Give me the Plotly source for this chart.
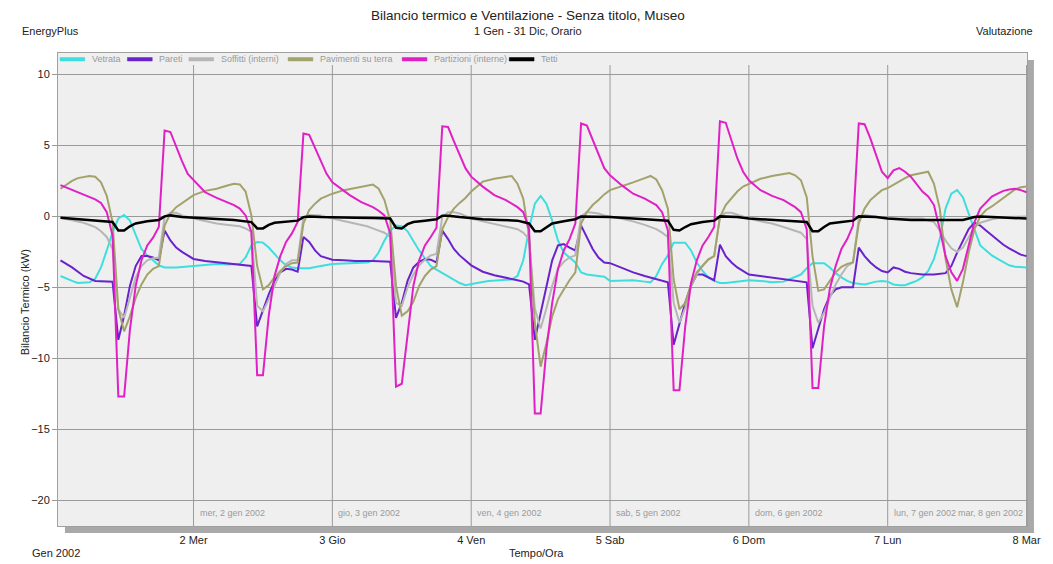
import pandas as pd
import plotly.graph_objects as go

# ===== DATA (hours since 1 Jan 2002 00:00, kW) =====
vetrata_h = [1, 2, 3, 4, 5, 6, 7, 8, 9, 10, 11, 12, 13, 14, 15, 16, 17, 18, 19, 21, 24,
             26, 28, 30, 32, 33, 34, 35, 36, 37, 38, 39, 40, 41, 42, 44, 46,
             48, 51, 54, 55, 56, 57, 58, 59, 60, 61, 62, 63, 64, 65, 66, 67, 68, 69, 70, 71, 72,
             73, 75, 77, 79, 80, 81, 82, 83, 84, 85, 86, 87, 88, 89, 90, 91, 92, 94, 95,
             96, 98, 100, 102, 103, 104, 105, 106, 107, 108, 109, 110, 111, 112, 113, 114, 115, 116, 118, 120,
             122, 124, 126, 128, 129, 130, 131, 132, 133, 134, 135, 136, 137, 138, 140, 142, 143,
             144, 145, 146, 147, 148, 149, 150, 151, 152, 153, 154, 155, 156, 157, 158, 159, 160, 161, 162,
             163, 164, 165, 166, 167, 168]
vetrata_kw = [-4.2, -4.4, -4.55, -4.7, -4.7, -4.65, -4.4, -3.6, -2.4, -1.1, -0.15, 0.1, -0.3, -1.35, -2.3, -2.75,
              -3.1, -3.45, -3.6, -3.6, -3.5,
              -3.4, -3.35, -3.4, -3.35, -2.9, -2.05, -1.8, -1.85, -2.2, -2.65, -3.1, -3.45, -3.6, -3.65, -3.65, -3.5,
              -3.35, -3.3, -3.25, -3.1, -2.55, -1.7, -1.0, -0.65, -0.7, -1.05, -1.7, -2.4, -2.95, -3.5, -3.75, -4.0,
              -4.25, -4.5, -4.7, -4.85, -4.8,
              -4.7, -4.55, -4.5, -4.45, -4.2, -3.1, -0.9, 0.9, 1.45, 0.9, -0.3, -1.7, -2.55, -2.9, -3.25, -3.95,
              -4.1, -4.2, -4.25,
              -4.55, -4.5, -4.5, -4.6, -4.65, -4.2, -3.35, -2.75, -1.85, -1.85, -1.85, -2.4, -3.25, -3.85, -4.3,
              -4.55, -4.7, -4.7, -4.6, -4.5,
              -4.55, -4.65, -4.6, -4.3, -4.1, -3.65, -3.3, -3.3, -3.3, -3.6, -4.0, -4.3, -4.55, -4.7, -4.8, -4.6, -4.55,
              -4.6, -4.8, -4.85, -4.85, -4.7, -4.55, -4.3, -3.85, -3.0, -1.6, 0.55, 1.6, 1.85, 1.35, 0.2, -1.0,
              -2.05, -2.4, -2.75, -3.0, -3.25, -3.45, -3.55, -3.6, -3.6]

pareti_h = [1, 3, 5, 7, 10, 11, 12, 13, 14, 15, 16, 17, 18, 19, 20, 21, 22, 24,
            26, 28, 31, 33, 34, 35, 36, 37, 38, 39, 40, 41, 42, 43, 44, 45, 46,
            48, 50, 52, 55, 58, 59, 60, 61, 62, 63, 64, 65, 66, 67, 68, 69, 70, 72,
            74, 76, 78, 80, 81, 82, 83, 84, 85, 86, 87, 88, 89, 90, 91, 92, 93, 94, 95,
            96, 98, 100, 102, 104, 106, 107, 108, 109, 110, 111, 112, 113, 114, 115, 116, 117, 118, 120,
            122, 124, 126, 128, 130, 131, 132, 133, 134, 135, 136, 137, 138, 139, 140, 141, 142, 143,
            144, 145, 146, 147, 148, 150, 152, 154, 155, 156, 157, 158, 159, 160, 161, 162, 163, 164, 165,
            166, 167, 168]
pareti_kw = [-3.1, -3.6, -4.2, -4.55, -4.6, -8.7, -7.0, -4.9, -3.5, -2.8, -2.8, -2.9, -3.1, -1.0, -1.7, -2.2, -2.5, -3.0,
             -3.15, -3.25, -3.35, -3.45, -3.5, -7.75, -6.55, -5.5, -4.55, -3.95, -3.7, -3.75, -3.9, -1.45, -1.8,
             -2.4, -2.8,
             -3.05, -3.1, -3.15, -3.15, -3.2, -7.15, -6.1, -4.55, -3.6, -3.2, -3.0, -3.05, -3.25, -1.0, -1.6, -2.3,
             -2.75, -3.45,
             -3.9, -4.15, -4.3, -4.5, -4.6, -4.8, -8.7, -6.8, -4.9, -3.1, -2.05, -1.95, -2.2, -2.4, -0.65, -1.45,
             -2.3, -2.9, -3.25,
             -3.3, -3.65, -3.95, -4.2, -4.4, -4.65, -9.05, -7.5, -6.1, -4.9, -4.1, -4.1, -4.3, -4.5, -2.0, -2.8,
             -3.25, -3.6, -4.1,
             -4.2, -4.3, -4.4, -4.5, -4.65, -9.3, -8.0, -6.55, -5.6, -5.15, -5.0, -5.0, -5.0, -2.2, -2.8, -3.25,
             -3.6, -3.85,
             -3.95, -3.6, -3.7, -3.9, -4.0, -4.1, -4.1, -4.0, -3.5, -2.55, -1.7, -0.9, -0.45, -0.65, -1.0, -1.35,
             -1.7, -2.0, -2.25, -2.5, -2.7, -2.8]

soffitti_h = [1, 3, 5, 7, 8, 9, 10, 11, 12, 13, 14, 15, 16, 17, 18, 19, 20, 21, 22, 24,
              26, 28, 30, 32, 33, 34, 35, 36, 37, 38, 39, 40, 41, 42, 43, 44, 46,
              48, 50, 52, 54, 56, 57, 58, 59, 60, 61, 62, 63, 64, 65, 66, 67, 68, 69, 70, 72,
              74, 76, 78, 80, 81, 82, 83, 84, 85, 86, 87, 88, 89, 90, 91, 92, 94, 95,
              96, 98, 100, 102, 104, 105, 106, 107, 108, 109, 110, 111, 112, 113, 114, 115, 116, 117, 118, 120,
              122, 124, 126, 128, 129, 130, 131, 132, 133, 134, 135, 136, 137, 138, 139, 140, 142, 143,
              144, 146, 148, 150, 151, 152, 153, 154, 155, 156, 157, 158, 159, 160, 161, 162, 164, 166, 168]
soffitti_kw = [-0.1, -0.3, -0.45, -0.75, -1.05, -1.45, -2.3, -6.55, -7.15, -5.75, -4.3, -3.5, -3.1, -2.95, -2.9,
               -0.05, 0.25, 0.25, 0.07, -0.15,
               -0.35, -0.5, -0.6, -0.7, -0.85, -1.1, -6.3, -6.7, -5.85, -4.9, -3.95, -3.35, -3.1, -3.1, -0.05, 0.1,
               0.07,
               -0.15, -0.35, -0.5, -0.7, -1.0, -1.15, -1.45, -6.1, -6.3, -5.0, -4.1, -3.45, -3.05, -2.75, -2.65,
               -0.05, 0.3, 0.3, 0.2, -0.15,
               -0.35, -0.55, -0.75, -0.9, -1.15, -1.6, -6.5, -7.9, -6.5, -4.9, -3.7, -3.2, -2.9, -2.75, 0.0, 0.3,
               0.2, 0.07,
               0.0, -0.15, -0.35, -0.6, -0.9, -1.15, -1.45, -6.1, -7.5, -6.45, -4.9, -4.1, -3.45, -3.0, -2.8, 0.0,
               0.25, 0.25, 0.1, -0.15,
               -0.35, -0.5, -0.75, -1.0, -1.15, -1.6, -6.3, -7.5, -6.8, -5.75, -4.8, -4.1, -3.5, -3.25, -0.15, 0.1,
               0.0, -0.05,
               -0.15, -0.15, -0.15, -0.15, -0.3, -0.4, -1.0, -1.7, -2.25, -2.5, -2.2, -1.45, -0.75, -0.45, -0.3,
               -0.2, -0.05, 0.0, 0.0]

pavimenti_h = [1, 2, 3, 4, 5, 6, 7, 8, 9, 10, 11, 12, 13, 14, 15, 16, 17, 18, 19, 20, 21, 22, 23, 24,
               26, 28, 30, 31, 32, 33, 34, 35, 36, 37, 38, 39, 40, 41, 42, 43, 44, 45, 46,
               48, 50, 52, 54, 55, 56, 57, 58, 59, 60, 61, 62, 63, 64, 65, 66, 67, 68, 69, 70, 71, 72,
               74, 76, 78, 79, 80, 81, 82, 83, 84, 85, 86, 87, 88, 89, 90, 91, 92, 93, 94, 95,
               96, 98, 100, 102, 103, 104, 105, 106, 107, 108, 109, 110, 111, 112, 113, 114, 115, 116, 117, 118,
               119, 120,
               122, 124, 126, 127, 128, 129, 130, 131, 132, 133, 134, 135, 136, 137, 138, 139, 140, 141, 142, 143,
               144, 145, 146, 147, 148, 149, 150, 151, 152, 153, 154, 155, 156, 157, 158, 159, 160, 161, 162,
               163, 164, 165, 166, 167, 168]
pavimenti_kw = [1.95, 2.25, 2.5, 2.7, 2.8, 2.85, 2.8, 2.4, 1.45, -0.4, -6.55, -8.1, -7.05, -5.75, -4.8, -4.1, -3.7,
                -3.5, -0.65, 0.2, 0.65, 0.95, 1.25, 1.5,
                1.8, 1.95, 2.2, 2.3, 2.25, 1.75, 0.07, -3.5, -5.15, -4.85, -4.3, -3.85, -3.5, -3.3, -3.25, -0.5,
                0.45, 0.9, 1.25,
                1.6, 1.85, 2.0, 2.2, 2.25, 1.95, 1.15, -0.3, -4.9, -7.0, -6.7, -6.0, -4.9, -4.2, -3.75, -3.5, -0.9,
                -0.05, 0.55, 0.95, 1.3, 1.75,
                2.45, 2.65, 2.8, 2.85, 2.3, 1.25, -1.35, -7.5, -10.6, -8.95, -7.05, -5.85, -5.15, -4.5, -3.95, -0.5,
                0.3, 0.8, 1.15, 1.55,
                1.85, 2.1, 2.4, 2.7, 2.85, 2.6, 1.85, 0.55, -4.45, -6.55, -6.1, -4.8, -3.95, -3.5, -3.05, -2.8,
                -0.05, 0.8, 1.25, 1.75, 2.1, 2.3,
                2.65, 2.85, 3.0, 3.05, 2.9, 2.55, 1.35, -2.8, -5.25, -5.15, -4.55, -3.95, -3.55, -3.35, -3.25, -0.5,
                0.55, 1.15, 1.5, 1.85,
                2.0, 2.25, 2.5, 2.7, 2.9, 3.0, 3.05, 3.15, 2.3, 0.55, -3.0, -5.15, -6.4, -4.65, -2.55, -0.9, 0.0,
                0.45, 0.7, 1.0, 1.3, 1.6, 1.9, 2.05, 2.1]

partizioni_h = [1, 3, 5, 7, 8, 9, 10, 11, 12, 13, 14, 15, 16, 17, 18, 19, 20, 21, 22, 23, 24,
                26, 28, 30, 31, 32, 33, 34, 35, 36, 37, 38, 39, 40, 41, 42, 43, 44, 45, 46, 47,
                48, 49, 51, 53, 55, 56, 57, 58, 59, 60, 61, 62, 63, 64, 65, 66, 67, 68, 69, 70, 71, 72,
                74, 76, 78, 80, 81, 82, 83, 84, 85, 86, 87, 88, 89, 90, 91, 92, 93, 94, 95,
                96, 98, 100, 102, 104, 105, 106, 107, 108, 109, 110, 111, 112, 113, 114, 115, 116, 117, 118, 119,
                120,
                122, 124, 126, 128, 129, 130, 131, 132, 133, 134, 135, 136, 137, 138, 139, 140, 141, 142, 143,
                144, 145, 146, 147, 148, 149, 150, 151, 152, 153, 154, 155, 156, 157, 158, 159, 160, 161, 162,
                163, 164, 165, 166, 167, 168]
partizioni_kw = [2.2, 1.85, 1.55, 1.2, 0.95, 0.3, -1.35, -12.7, -12.7, -8.0, -4.9, -3.1, -2.05, -1.5, -0.75, 6.05,
                 5.95, 4.9, 3.9, 3.0, 2.55,
                 1.7, 1.3, 1.0, 0.8, 0.55, 0.07, -1.1, -11.2, -11.2, -7.0, -4.2, -2.8, -1.8, -1.2, -0.4, 5.85, 5.75,
                 4.8, 3.85, 3.0,
                 2.4, 2.1, 1.5, 1.0, 0.65, 0.4, 0.07, -1.2, -12.0, -11.8, -8.5, -4.9, -3.1, -2.05, -1.45, -0.8, 6.35,
                 6.3, 5.3, 4.35, 3.4, 2.8,
                 2.1, 1.5, 1.15, 0.65, 0.3, -0.9, -13.9, -13.9, -9.4, -6.1, -3.7, -2.4, -1.6, -0.5, 6.55, 6.4, 5.4,
                 4.35, 3.4,
                 2.9, 2.2, 1.6, 1.25, 0.8, 0.3, -1.0, -12.25, -12.25, -7.75, -4.7, -3.1, -2.05, -1.45, -0.75, 6.7,
                 6.6, 5.3, 4.1, 3.15, 2.55,
                 1.85, 1.45, 1.15, 0.65, 0.3, -0.9, -12.1, -12.1, -7.75, -5.1, -3.5, -2.3, -1.6, -0.65, 6.55, 6.5,
                 5.5, 4.35, 3.15,
                 2.7, 3.25, 3.4, 3.15, 2.8, 2.3, 1.75, 1.4, 0.8, -0.9, -2.8, -3.95, -4.55, -3.7, -2.05, -0.4, 0.55,
                 1.0, 1.4, 1.6, 1.8, 1.9, 1.95, 1.85, 1.7]

tetti_h = [1, 4, 7, 10, 11, 12, 13, 14, 16, 18, 19, 20, 22, 24,
           26, 28, 31, 34, 35, 36, 37, 38, 40, 42, 43, 44, 46,
           48, 52, 55, 58, 59, 60, 61, 62, 64, 66, 67, 68, 70, 72,
           74, 77, 80, 82, 83, 84, 85, 86, 88, 90, 91, 92, 94,
           96, 100, 103, 106, 107, 108, 109, 110, 112, 114, 115, 116, 118, 120,
           122, 125, 128, 130, 131, 132, 133, 134, 136, 138, 139, 140, 142, 143,
           144, 148, 152, 155, 157, 159, 160, 162, 165, 168]
tetti_kw = [-0.1, -0.2, -0.3, -0.4, -1.0, -1.0, -0.7, -0.5, -0.35, -0.25, 0.0, 0.07, -0.05, -0.1,
            -0.15, -0.2, -0.25, -0.4, -0.85, -0.85, -0.6, -0.45, -0.35, -0.3, -0.05, 0.0, -0.05,
            -0.05, -0.1, -0.12, -0.15, -0.8, -0.85, -0.55, -0.4, -0.3, -0.2, 0.05, 0.05, -0.05, -0.15,
            -0.2, -0.25, -0.3, -0.5, -1.05, -1.05, -0.75, -0.5, -0.35, -0.2, 0.0, 0.0, -0.05,
            -0.05, -0.15, -0.25, -0.3, -0.95, -1.0, -0.75, -0.55, -0.4, -0.3, 0.0, 0.0, -0.05, -0.15,
            -0.2, -0.25, -0.3, -0.4, -1.05, -1.05, -0.75, -0.5, -0.4, -0.3, 0.0, 0.0, -0.05, -0.1,
            -0.15, -0.25, -0.25, -0.3, -0.25, -0.05, 0.0, -0.05, -0.1, -0.15]

day_ticks = ['2002-01-02', '2002-01-03', '2002-01-04', '2002-01-05', '2002-01-06', '2002-01-07', '2002-01-08']
day_short = ['2 Mer', '3 Gio', '4 Ven', '5 Sab', '6 Dom', '7 Lun', '8 Mar']
day_long = ['mer, 2 gen 2002', 'gio, 3 gen 2002', 'ven, 4 gen 2002', 'sab, 5 gen 2002',
            'dom, 6 gen 2002', 'lun, 7 gen 2002', 'mar, 8 gen 2002']

series = [
    ('Vetrata', vetrata_h, vetrata_kw, '#3fdede', 2),
    ('Pareti', pareti_h, pareti_kw, '#6a22cc', 2),
    ('Soffitti (interni)', soffitti_h, soffitti_kw, '#b6b6b6', 2),
    ('Pavimenti su terra', pavimenti_h, pavimenti_kw, '#a3a26c', 2),
    ('Partizioni (interne)', partizioni_h, partizioni_kw, '#e020c6', 2),
    ('Tetti', tetti_h, tetti_kw, '#000000', 2.5),
]
# left edge of each legend swatch (reference pixels)
legend_px = [60, 128, 190, 290, 405, 513]

base = pd.Timestamp('2002-01-01')
FONT = 'Arial, Liberation Sans, sans-serif'

# the page body adds an 8px margin, so the figure is drawn 8px smaller and everything is placed
# in reference-pixel coordinates
OFF = 8
L, R, T, B = 58, 1035, 53, 526
W, H = R - L, B - T


def px_x(px):
    return (px - L) / W


def px_y(py):
    return (B - py) / H


fig = go.Figure()
for name, hrs, kw, col, lw in series:
    fig.add_trace(go.Scatter(x=base + pd.to_timedelta(hrs, unit='h'), y=kw, name=name, mode='lines',
                             line=dict(color=col, width=lw), showlegend=False))

# shadow + vertical day lines
shapes = [
    dict(type='rect', xref='paper', yref='paper', x0=1.0, x1=px_x(1042), y0=px_y(533), y1=px_y(60),
         fillcolor='#a9a9a9', line=dict(width=0), layer='below'),
    dict(type='rect', xref='paper', yref='paper', x0=px_x(65), x1=px_x(1042), y0=px_y(533), y1=0,
         fillcolor='#a9a9a9', line=dict(width=0), layer='below'),
]
for d in day_ticks:
    shapes.append(dict(type='line', xref='x', yref='paper', x0=d, x1=d, y0=0, y1=px_y(65),
                       line=dict(color='#9a9a9a', width=1), layer='below'))

annotations = [
    dict(text='Bilancio termico e Ventilazione - Senza titolo, Museo', x=px_x(532), y=px_y(15.5),
         font=dict(size=13.5, color='#222222')),
    dict(text='1 Gen - 31 Dic, Orario', x=px_x(532), y=px_y(31), font=dict(size=11, color='#222222')),
    dict(text='EnergyPlus', x=px_x(20), y=px_y(31), xanchor='left', font=dict(size=11, color='#222222')),
    dict(text='Valutazione', x=px_x(1043), y=px_y(31), xanchor='right', font=dict(size=11, color='#222222')),
    dict(text='Gen 2002', x=px_x(30), y=px_y(553), xanchor='left', font=dict(size=11, color='#222222')),
    dict(text='Tempo/Ora', x=px_x(540), y=px_y(553), font=dict(size=11, color='#222222')),
    dict(text='Bilancio Termico (kW)', x=px_x(25), y=px_y(302), textangle=-90,
         font=dict(size=11, color='#222222')),
]
for i, (d, lab) in enumerate(zip(day_ticks, day_long)):
    last = i == len(day_ticks) - 1
    annotations.append(dict(text=lab, x=d, xref='x', y=px_y(513), xanchor='right' if last else 'left',
                            xshift=-2 if last else 4, font=dict(size=9, color='#9a9a9a')))

# legend drawn as swatches + labels inside the top of the frame
for (name, hrs, kw, col, lw), lx in zip(series, legend_px):
    shapes.append(dict(type='rect', xref='paper', yref='paper', x0=px_x(lx), x1=px_x(lx + 25),
                       y0=px_y(61), y1=px_y(57.5), fillcolor=col, line=dict(color=col, width=0.5)))
    annotations.append(dict(text=name, x=px_x(lx + 30), y=px_y(59), xanchor='left',
                            font=dict(size=9, color='#9a9a9a')))

for a in annotations:
    a.setdefault('xref', 'paper')
    a['yref'] = 'paper'
    a['showarrow'] = False
    a.setdefault('xanchor', 'center')
    a['yanchor'] = 'middle'
    a['font'].setdefault('family', FONT)

x_lo = base + pd.Timedelta(hours=0.57)
x_hi = base + pd.Timedelta(hours=168.08)

fig.update_layout(
    width=1053 - OFF, height=564 - OFF,
    margin=dict(l=L - OFF, r=1053 - R, t=T - OFF, b=564 - B),
    paper_bgcolor='white', plot_bgcolor='#efefef',
    font=dict(family=FONT, size=11, color='#222222'),
    showlegend=False,
    shapes=shapes,
    annotations=annotations,
    xaxis=dict(range=[x_lo, x_hi], tickvals=day_ticks, ticktext=day_short, showgrid=False, zeroline=False,
               showline=True, mirror=True, linecolor='#a0a0a0', linewidth=1, ticks='',
               tickfont=dict(size=11, color='#222222'), ticklabelstandoff=4),
    yaxis=dict(range=[-21.83, 11.52], tickvals=[-20, -15, -10, -5, 0, 5, 10], showgrid=True,
               gridcolor='#9a9a9a', gridwidth=1, zeroline=False, showline=True, mirror=True,
               linecolor='#a0a0a0', linewidth=1, ticks='outside', ticklen=5, tickcolor='#9a9a9a',
               tickfont=dict(size=11, color='#222222')),
)

fig.write_html('out.html')
